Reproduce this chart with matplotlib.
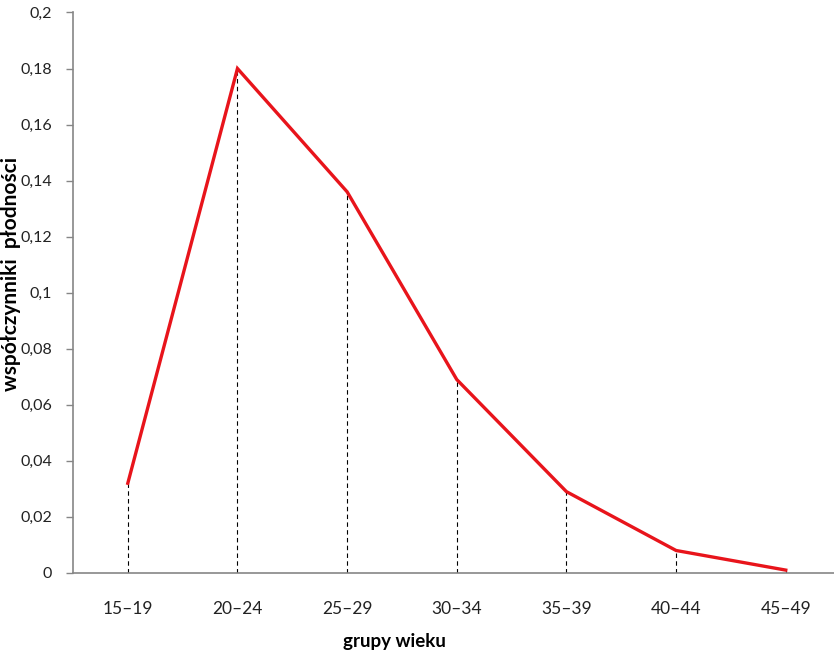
import matplotlib
matplotlib.use("Agg")
from matplotlib import pyplot as plt
from matplotlib.ticker import FuncFormatter

plt.rcParams['font.family'] = ['Lato', 'DejaVu Sans']

groups = ['15–19', '20–24', '25–29', '30–34', '35–39', '40–44', '45–49']
rates = [0.032, 0.18, 0.136, 0.069, 0.029, 0.008, 0.001]
yticks = [0, 0.02, 0.04, 0.06, 0.08, 0.1, 0.12, 0.14, 0.16, 0.18, 0.2]

fig = plt.figure(figsize=(8.34, 6.57), dpi=100)
ax = fig.add_axes([0.0875, 0.128, 0.9125, 0.853])

x = list(range(len(groups)))
# przerywane linie od punktów do osi
ax.vlines(x, 0, rates, colors='black', linestyles=(0, (4, 3)), linewidth=0.8)
ax.plot(x, rates, color='#e8141b', linewidth=2.4, solid_joinstyle='miter')

ax.set_xlim(-0.5, 6.44)
ax.set_ylim(0, 0.2)
ax.set_xticks(x)
ax.set_xticklabels(groups, fontsize=12.5, color='#222222')
ax.set_yticks(yticks)

def fmt(v, pos):
    s = ('%.2f' % v).rstrip('0').rstrip('.')
    return s.replace('.', ',')

ax.yaxis.set_major_formatter(FuncFormatter(fmt))
ax.tick_params(axis='y', labelsize=11.5, labelcolor='#222222', length=5,
               color='#868686', width=1, pad=10)
ax.tick_params(axis='x', length=0, pad=20)

for s in ['top', 'right']:
    ax.spines[s].set_visible(False)
for s in ['left', 'bottom']:
    ax.spines[s].set_color('#868686')
    ax.spines[s].set_linewidth(1.2)

ax.set_xlabel('grupy wieku', fontsize=13.5, fontweight='bold')
ax.xaxis.set_label_coords(0.423, -0.107)
ax.set_ylabel('współczynniki  płodności', fontsize=15, fontweight='bold',
              va='center')
ax.yaxis.set_label_coords(-0.081, 0.534)

fig.savefig('out.png', dpi=100)
